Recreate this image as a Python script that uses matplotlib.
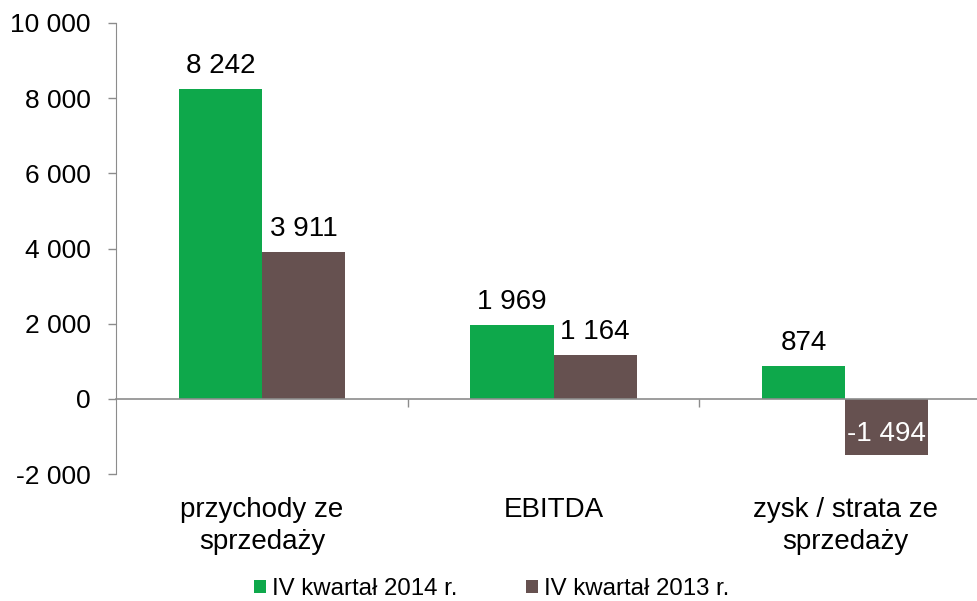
import matplotlib
matplotlib.use("Agg")
import matplotlib.pyplot as plt
import numpy as np

categories = ["przychody ze\nsprzedaży", "EBITDA", "zysk / strata ze\nsprzedaży"]
series_names = ["IV kwartał 2014 r.", "IV kwartał 2013 r."]
values_2014 = [8242, 1969, 874]
values_2013 = [3911, 1164, -1494]
yticks = [-2000, 0, 2000, 4000, 6000, 8000, 10000]

green = "#0EA84B"
brown = "#665150"
gray = "#8C8C8C"

plt.rcParams['font.family'] = ['Liberation Sans', 'DejaVu Sans']
fig = plt.figure(figsize=(9.78, 6.01), dpi=100)
ax = fig.add_axes([116/978, 1-474/601, (991-116)/978, (474-23)/601])

x = np.arange(len(categories))
w = 0.285
b1 = ax.bar(x - w/2, values_2014, w, color=green, label=series_names[0], zorder=2)
b2 = ax.bar(x + w/2, values_2013, w, color=brown, label=series_names[1], zorder=2)

def fmt(v):
    s = f"{abs(v):,}".replace(",", " ")
    return ("-" if v < 0 else "") + s

for bars, vals in ((b1, values_2014), (b2, values_2013)):
    for rect, v in zip(bars, vals):
        cx = rect.get_x() + rect.get_width()/2
        if v >= 0:
            ax.annotate(fmt(v), (cx, v), xytext=(0, 10), textcoords='offset pixels',
                        ha='center', va='bottom', fontsize=20, color='black')
        else:
            ax.annotate(fmt(v), (cx, v), xytext=(0, 8), textcoords='offset pixels',
                        ha='center', va='bottom', fontsize=20, color='white')

ax.set_xlim(-0.5, 2.5)
ax.set_ylim(-2000, 10000)
ax.set_yticks(yticks)
ax.set_yticklabels([fmt(v) for v in yticks], fontsize=19)
ax.tick_params(axis='y', length=6, width=1, color=gray, pad=12)

for s in ('top', 'right'):
    ax.spines[s].set_visible(False)
ax.spines['left'].set_color(gray)
ax.spines['bottom'].set_position(('data', 0))
ax.spines['bottom'].set_color(gray)
ax.spines['bottom'].set_linewidth(1.2)
ax.set_xticks([0.5, 1.5, 2.5])
ax.set_xticklabels([])
ax.tick_params(axis='x', length=6, width=1, color=gray, direction='out')

for xi, cat in zip(x, categories):
    ax.text(xi, -2000 - 620, cat, ha='center', va='top',
            fontsize=20, linespacing=1.29)

leg = fig.legend(handles=[b1, b2], labels=series_names, loc='center',
                 bbox_to_anchor=(492/978, 1-589/601), ncol=2, frameon=False,
                 fontsize=17.3, handlelength=0.5, handleheight=0.5, handletextpad=0.25,
                 columnspacing=2.85)

fig.savefig("out.png", dpi=100)
